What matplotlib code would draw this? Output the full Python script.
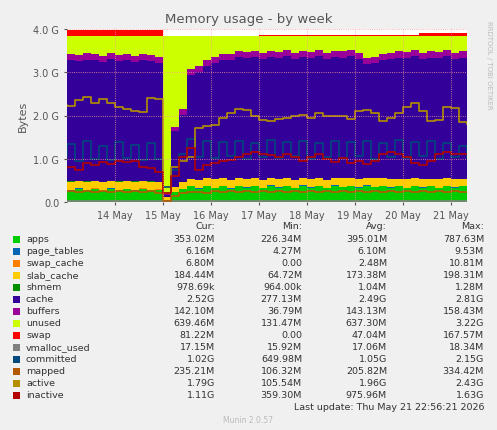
import numpy as np
import matplotlib
matplotlib.use("Agg")
import matplotlib.pyplot as plt
import matplotlib.dates as mdates
from datetime import datetime, timedelta

G = 1024 ** 3

# samples every 4 hours starting 12 May 20:00, values in GiB
START = datetime(2026, 5, 12, 20)
VIEW_START = datetime(2026, 5, 13)
apps = [0.30, 0.26, 0.31, 0.27, 0.30, 0.25, 0.31, 0.27, 0.29, 0.26, 0.30, 0.27, 0.28, 0.05, 0.22,
        0.30, 0.36, 0.31, 0.37, 0.32, 0.36, 0.31, 0.37, 0.33, 0.36, 0.32, 0.38, 0.33, 0.37, 0.32,
        0.38, 0.33, 0.37, 0.32, 0.38, 0.34, 0.37, 0.33, 0.38, 0.34, 0.37, 0.33, 0.36, 0.32, 0.37,
        0.33, 0.36, 0.32, 0.37, 0.33, 0.36, 0.33]
page_tables = [0.006] * 52
swap_cache = [0.007] * 12 + [0.010, 0.000, 0.002] + [0.003] * 37
slab_cache = [0.18, 0.20, 0.17, 0.19, 0.18, 0.20, 0.17, 0.19, 0.18, 0.20, 0.17, 0.19, 0.17, 0.06, 0.12,
              0.15, 0.17, 0.19, 0.17, 0.20, 0.18, 0.19, 0.17, 0.20, 0.18, 0.19, 0.17, 0.20, 0.18, 0.19,
              0.17, 0.20, 0.18, 0.19, 0.17, 0.20, 0.18, 0.19, 0.17, 0.20, 0.18, 0.19, 0.17, 0.20, 0.18,
              0.19, 0.17, 0.20, 0.18, 0.19, 0.17, 0.19]
shmem = [0.001] * 52
cache = [2.78, 2.80, 2.76, 2.82, 2.79, 2.77, 2.81, 2.78, 2.80, 2.76, 2.79, 2.78, 2.75, 0.05, 1.30,
         1.55, 2.40, 2.50, 2.60, 2.68, 2.74, 2.78, 2.80, 2.79, 2.81, 2.78, 2.80, 2.79, 2.81, 2.78,
         2.80, 2.79, 2.81, 2.78, 2.80, 2.79, 2.81, 2.78, 2.62, 2.66, 2.72, 2.77, 2.80, 2.79, 2.81,
         2.78, 2.80, 2.79, 2.81, 2.78, 2.80, 2.74]
buffers = [0.14] * 12 + [0.14, 0.04, 0.08] + [0.14] * 37
swap = [0.14] * 13 + [0.0] * 12 + [0.02] * 16 + [0.04] * 4 + [0.07] * 7
MEM_TOTAL = 3.83

vmalloc_used = [0.017] * 52
committed = [1.05, 1.35, 0.95, 1.40, 1.00, 1.30, 0.98, 1.38, 1.02, 1.32, 0.97, 1.36, 1.00, 0.35, 0.75,
             1.10, 1.45, 1.05, 1.40, 1.02, 1.38, 1.06, 1.42, 1.00, 1.36, 1.05, 1.44, 1.02, 1.38, 1.06,
             1.40, 1.00, 1.36, 1.05, 1.42, 1.02, 1.38, 1.06, 1.40, 1.00, 1.36, 1.05, 1.44, 1.02, 1.38,
             1.06, 1.40, 1.00, 1.36, 1.05, 1.30, 1.02]
mapped = [0.24, 0.26, 0.23, 0.25, 0.24, 0.26, 0.22, 0.25, 0.24, 0.26, 0.23, 0.25, 0.20, 0.02, 0.15,
          0.20, 0.22, 0.24, 0.21, 0.25, 0.23, 0.26, 0.22, 0.25, 0.23, 0.26, 0.22, 0.25, 0.23, 0.26,
          0.22, 0.25, 0.23, 0.26, 0.22, 0.25, 0.23, 0.26, 0.22, 0.25, 0.23, 0.26, 0.22, 0.25, 0.23,
          0.26, 0.22, 0.25, 0.23, 0.26, 0.22, 0.24]
active = [2.25, 2.22, 2.35, 2.42, 2.28, 2.38, 2.30, 2.20, 2.15, 2.10, 2.08, 2.40, 2.38, 0.20, 0.80,
          0.95, 1.05, 1.70, 1.75, 1.78, 1.95, 2.05, 2.15, 2.12, 2.00, 1.90, 1.88, 1.92, 1.95, 2.00,
          2.02, 1.95, 2.05, 2.00, 1.98, 2.00, 1.92, 2.10, 2.12, 2.05, 1.88, 1.95, 2.05, 2.20, 2.28,
          2.10, 1.88, 1.90, 2.20, 2.18, 1.85, 1.80]
inactive = [0.78, 0.82, 0.75, 0.90, 0.85, 0.92, 0.88, 0.95, 0.93, 0.95, 0.80, 0.78, 0.70, 0.20, 0.60,
            1.05, 1.25, 0.75, 0.85, 0.90, 0.95, 0.98, 1.05, 1.12, 1.15, 1.10, 1.08, 1.05, 1.10, 1.05,
            0.95, 1.05, 1.10, 1.00, 0.92, 1.02, 0.90, 0.95, 0.88, 0.95, 1.10, 1.15, 1.12, 1.05, 0.90,
            0.85, 0.95, 1.10, 1.15, 1.10, 1.12, 1.10]

# legend table text (Cur, Min, Avg, Max)
rows = [
    ("apps", "#00CC00", "353.02M", "226.34M", "395.01M", "787.63M"),
    ("page_tables", "#0066B3", "6.16M", "4.27M", "6.10M", "9.53M"),
    ("swap_cache", "#FF8000", "6.80M", "0.00", "2.48M", "10.81M"),
    ("slab_cache", "#FFCC00", "184.44M", "64.72M", "173.38M", "198.31M"),
    ("shmem", "#008F00", "978.69k", "964.00k", "1.04M", "1.28M"),
    ("cache", "#330099", "2.52G", "277.13M", "2.49G", "2.81G"),
    ("buffers", "#990099", "142.10M", "36.79M", "143.13M", "158.43M"),
    ("unused", "#CCFF00", "639.46M", "131.47M", "637.30M", "3.22G"),
    ("swap", "#FF0000", "81.22M", "0.00", "47.04M", "167.57M"),
    ("vmalloc_used", "#808080", "17.15M", "15.92M", "17.06M", "18.34M"),
    ("committed", "#00487D", "1.02G", "649.98M", "1.05G", "2.15G"),
    ("mapped", "#B35A00", "235.21M", "106.32M", "205.82M", "334.42M"),
    ("active", "#B38F00", "1.79G", "105.54M", "1.96G", "2.43G"),
    ("inactive", "#B30000", "1.11G", "359.30M", "975.96M", "1.63G"),
]
colors = {r[0]: r[1] for r in rows}

times = [START + timedelta(hours=4 * i) for i in range(len(apps))]

fig = plt.figure(figsize=(4.97, 4.31), dpi=100, facecolor="#F0F0F0")
ax = fig.add_axes([67 / 497, 1 - 203 / 431, 400 / 497, 173 / 431])
ax.set_facecolor("white")

stack_names = ["apps", "page_tables", "swap_cache", "slab_cache", "shmem", "cache", "buffers"]
stack_vals = [apps, page_tables, swap_cache, slab_cache, shmem, cache, buffers]
used = np.sum(np.array(stack_vals), axis=0)
unused = MEM_TOTAL - used
layers = [np.array(v) * G for v in stack_vals] + [unused * G, np.array(swap) * G]
names = stack_names + ["unused", "swap"]
ax.stackplot(times, *layers, colors=[colors[n] for n in names], step="post", linewidth=0)

for name, vals in [("vmalloc_used", vmalloc_used), ("committed", committed), ("mapped", mapped),
                   ("active", active), ("inactive", inactive)]:
    ax.step(times, np.array(vals) * G, where="post", color=colors[name], lw=1.2)

ax.set_xlim(VIEW_START, VIEW_START + timedelta(hours=200))
ax.set_ylim(0, 4 * G)
ax.set_yticks([0, G, 2 * G, 3 * G, 4 * G])
ax.set_yticklabels(["0.0", "1.0 G", "2.0 G", "3.0 G", "4.0 G"])
ax.xaxis.set_major_formatter(mdates.DateFormatter("%d %b"))
ax.set_xticks([VIEW_START + timedelta(days=d) for d in range(1, 9)])
ax.tick_params(labelsize=7, colors="#555555", length=2)
ax.grid(True, color="#FF9999", ls=":", lw=0.6)
ax.set_axisbelow(False)
for s in ax.spines.values():
    s.set_visible(False)
ax.set_ylabel("Bytes", fontsize=8, color="#555555")
fig.text(0.5, 1 - 20 / 431, "Memory usage - by week", ha="center", va="center",
         fontsize=9.5, color="#555555")
fig.text(489 / 497, 1 - 65 / 431, "RRDTOOL / TOBI OETIKER", rotation=270, ha="center",
         va="center", fontsize=5, color="#BBBBBB")

fs = 6.8
tc = "#333333"
cols_x = [215, 302, 387, 484]
for x, h in zip(cols_x, ["Cur:", "Min:", "Avg:", "Max:"]):
    fig.text(x / 497, 1 - 227 / 431, h, ha="right", va="center", fontsize=fs, color=tc)
for i, r in enumerate(rows):
    y = 1 - (240 + 12 * i) / 431
    fig.patches.append(plt.Rectangle((13 / 497, y - 3.5 / 431), 7 / 497, 7 / 431,
                                     transform=fig.transFigure, facecolor=r[1], edgecolor="none"))
    fig.text(26 / 497, y, r[0], ha="left", va="center", fontsize=fs, color=tc)
    for x, v in zip(cols_x, r[2:]):
        fig.text(x / 497, y, v, ha="right", va="center", fontsize=fs, color=tc)
fig.text(484 / 497, 1 - 408 / 431, "Last update: Thu May 21 22:56:21 2026", ha="right",
         va="center", fontsize=fs, color=tc)
fig.text(248 / 497, 1 - 421 / 431, "Munin 2.0.57", ha="center", va="center", fontsize=5.5,
         color="#BBBBBB")

fig.savefig("out.png", dpi=100, facecolor=fig.get_facecolor())
